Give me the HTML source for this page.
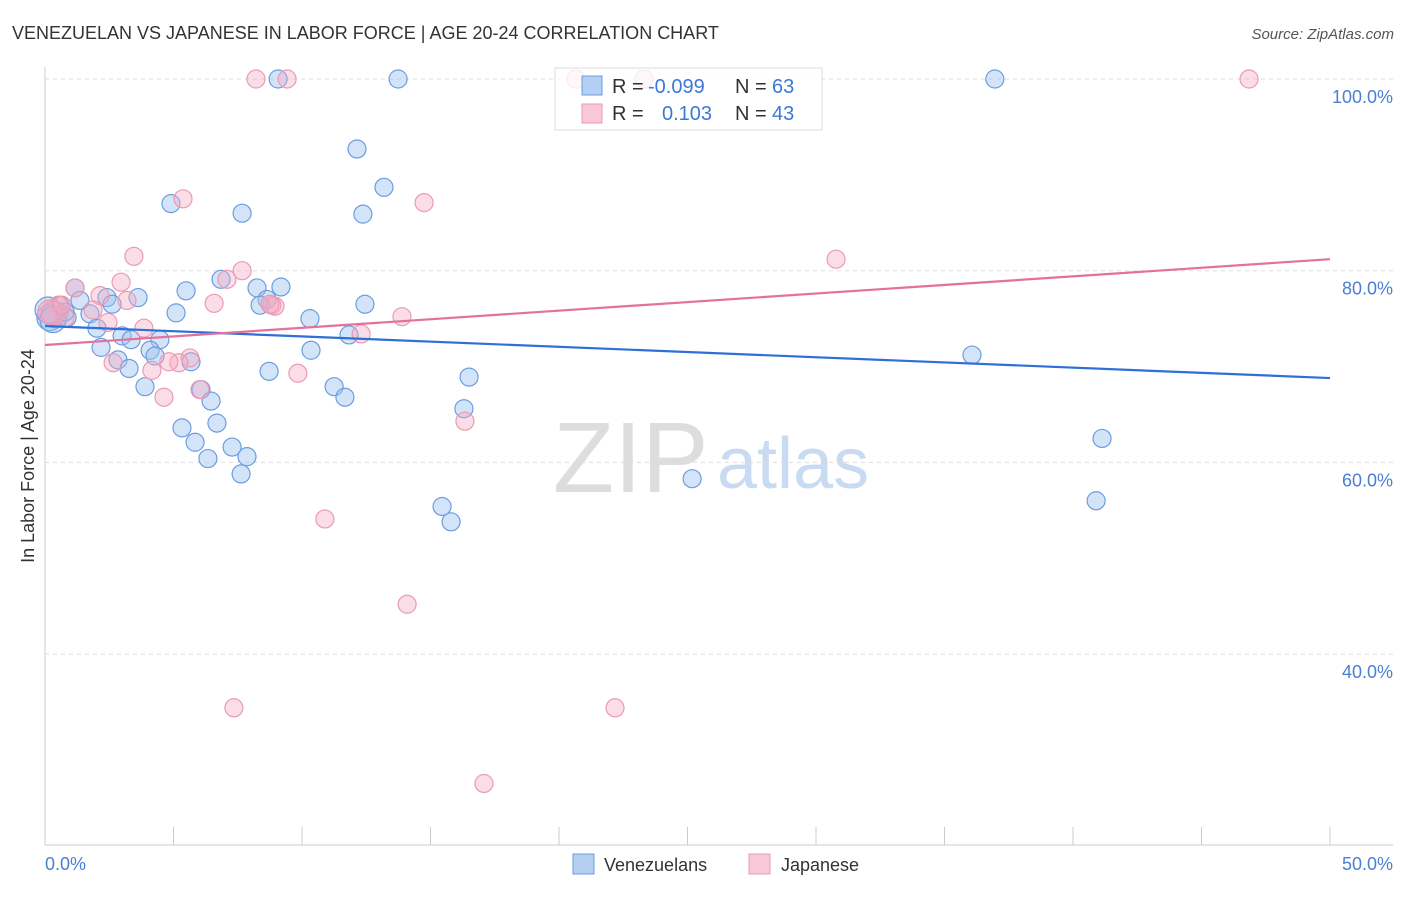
<!DOCTYPE html>
<html><head><meta charset="utf-8"><style>
body{margin:0;background:#fff;font-family:"Liberation Sans",sans-serif;}
svg text{font-family:"Liberation Sans",sans-serif;}
</style></head><body>
<svg id="chart" width="1406" height="892" xmlns="http://www.w3.org/2000/svg">
<text x="12" y="39" font-size="18" fill="#333">VENEZUELAN VS JAPANESE IN LABOR FORCE | AGE 20-24 CORRELATION CHART</text>
<text x="1394" y="39" font-size="15" fill="#555" text-anchor="end" font-style="italic">Source: ZipAtlas.com</text>
<g>
<text x="553" y="492" font-size="100" fill="#ddd" font-family="Liberation Serif,serif">ZIP</text>
<text x="717" y="488" font-size="72" fill="#c9dbf2">atlas</text>
</g>
<g id="grid"></g>
<line x1="45" y1="67" x2="45" y2="845" stroke="#ccc"/>
<line x1="45" y1="845" x2="1393" y2="845" stroke="#ccc"/>
<g id="xticks"></g>
<g id="pts"></g>
<g id="trends"></g>
<text transform="translate(34,456) rotate(-90)" font-size="18" fill="#333" text-anchor="middle">In Labor Force | Age 20-24</text>
<text x="45" y="870" font-size="18" fill="#4a7fd4">0.0%</text>
<text x="1393" y="870" font-size="18" fill="#4a7fd4" text-anchor="end">50.0%</text>
<g>
<rect x="555" y="68" width="267" height="62" fill="rgba(255,255,255,0.8)" stroke="#ddd"/>
<rect x="582" y="76" width="20" height="19" fill="#b5cff3" stroke="#6b9de0"/>
<rect x="582" y="104" width="20" height="19" fill="#f9c8d7" stroke="#ea9ab4"/>
<text x="612" y="93" font-size="20" fill="#333">R =</text>
<text x="648" y="93" font-size="20" fill="#3b78d8">-0.099</text>
<text x="735" y="93" font-size="20" fill="#333">N =</text>
<text x="772" y="93" font-size="20" fill="#3b78d8">63</text>
<text x="612" y="120" font-size="20" fill="#333">R =</text>
<text x="662" y="120" font-size="20" fill="#3b78d8">0.103</text>
<text x="735" y="120" font-size="20" fill="#333">N =</text>
<text x="772" y="120" font-size="20" fill="#3b78d8">43</text>
</g>
<g>
<rect x="573" y="854" width="21" height="20" fill="#b5cff3" stroke="#6b9de0"/>
<text x="604" y="871" font-size="18" fill="#333">Venezuelans</text></g>
<g>
<rect x="749" y="854" width="21" height="20" fill="#f9c8d7" stroke="#ea9ab4"/>
<text x="781" y="871" font-size="18" fill="#333">Japanese</text></g>
</svg>
<script>
const yTicks=[100,80,60,40];
const yTickLabels=["100.0%","80.0%","60.0%","40.0%"];
const blueX=[9.07,13.74,36.96,12.14,13.19,4.90,7.67,12.37,1.17,5.49,3.62,6.85,8.25,9.18,8.64,8.37,12.45,2.41,2.61,1.36,0.58,0.39,0.86,1.75,2.02,5.10,10.31,3.00,3.35,4.47,11.83,2.18,4.09,4.28,2.84,3.27,5.68,10.35,8.72,16.50,3.89,6.07,11.25,11.67,6.46,36.07,16.30,5.33,6.69,5.84,7.28,6.34,7.86,7.63,41.13,25.18,15.45,15.80,40.90,0.19,0.12,0.31,0.78];
const blueY=[100,100,100,92.7,88.7,87.0,86.0,85.9,78.2,77.9,77.2,79.1,78.2,78.3,77.0,76.4,76.5,77.2,76.5,76.9,76.4,75.4,75.1,75.5,74.0,75.6,75.0,73.2,72.8,72.8,73.3,72.0,71.7,71.1,70.7,69.8,70.5,71.7,69.5,68.9,67.9,67.6,67.9,66.8,66.4,71.2,65.6,63.6,64.1,62.1,61.6,60.4,60.6,58.8,62.5,58.3,55.4,53.8,56.0,75.1,75.9,74.9,75.7];
const pinkX=[8.21,9.42,20.66,23.31,46.85,5.37,14.75,3.46,30.78,7.67,2.96,7.08,1.17,2.14,3.19,6.58,8.83,8.95,0.51,0.31,0.78,13.89,2.45,3.85,12.30,5.64,5.21,2.65,4.16,9.84,6.03,4.63,16.34,10.89,14.09,7.35,22.18,17.08,0.19,0.66,1.87,8.75,4.82];
const pinkY=[100,100,100,100,100,87.5,87.1,81.5,81.2,80.0,78.8,79.1,78.2,77.4,76.9,76.6,76.4,76.3,76.4,75.6,75.1,75.2,74.6,74.0,73.4,70.9,70.4,70.4,69.6,69.3,67.6,66.8,64.3,54.1,45.2,34.4,34.4,26.5,75.7,76.4,75.9,76.5,70.5];
const blueTrend=[74.23,68.8];
const pinkTrend=[72.25,81.2];
const xDomain=[0,50];
const NS="http://www.w3.org/2000/svg";
function xs(v){return 45+(v-xDomain[0])/(xDomain[1]-xDomain[0])*1285;}
function ys(v){return 79+(100-v)/20*191.7;}
function mk(t,a,p){const e=document.createElementNS(NS,t);for(const k in a)e.setAttribute(k,a[k]);p.appendChild(e);return e;}
const grid=document.getElementById('grid');
yTicks.forEach((t,i)=>{
 const l=mk('line',{x1:45,x2:1393,y1:ys(t),y2:ys(t),stroke:'#ddd','stroke-dasharray':'4,4'},grid);
 
 
 const tx=mk('text',{x:1393,y:ys(t)+24,'font-size':18,fill:'#4a7fd4','text-anchor':'end'},grid);
 tx.textContent=yTickLabels[i];
 
 
});
const xt=document.getElementById('xticks');
for(let v=0;v<=50;v+=5){
 const l=mk('line',{x1:xs(v),x2:xs(v),y1:827,y2:845,stroke:'#ccc'},xt);
 
 
}
const pts=document.getElementById('pts');
blueX.forEach((x,i)=>{
 const c=mk('circle',{cx:xs(x),cy:ys(blueY[i]),r:x<0.4?13:9,fill:'rgba(160,196,240,0.45)',stroke:'#6b9de0','stroke-width':1.2},pts);
 
 
});
pinkX.forEach((x,i)=>{
 const c=mk('circle',{cx:xs(x),cy:ys(pinkY[i]),r:x<0.4?12:9,fill:'rgba(244,170,195,0.4)',stroke:'#eb9ab3','stroke-width':1.2},pts);
 
 
});
const tr=document.getElementById('trends');
const bl=mk('line',{x1:xs(0),x2:xs(50),y1:ys(blueTrend[0]),y2:ys(blueTrend[1]),stroke:'#2f6fd6','stroke-width':2.2},tr);


const pl=mk('line',{x1:xs(0),x2:xs(50),y1:ys(pinkTrend[0]),y2:ys(pinkTrend[1]),stroke:'#e4719a','stroke-width':2.2},tr);


</script>
</body></html>
